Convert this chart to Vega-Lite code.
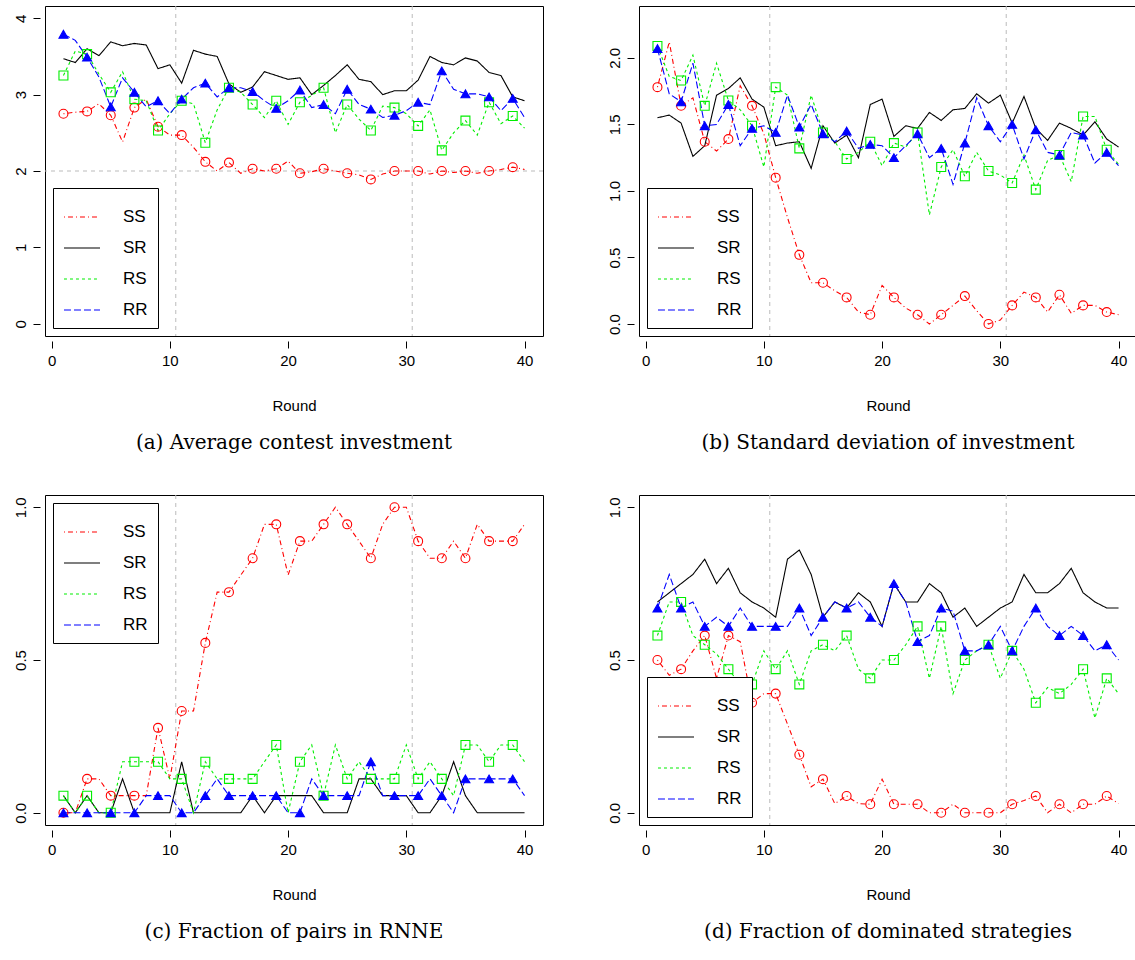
{
  "$schema": "https://vega.github.io/schema/vega-lite/v6.json",
  "padding": {"left": 12, "top": 5, "right": 5, "bottom": 5},
  "background": "white",
  "datasets": {
    "rounds": [
      {"p":"a","r":1,"SS":2.75,"SR":3.47,"RS":3.25,"RR":3.79},
      {"p":"a","r":2,"SS":2.77,"SR":3.42,"RS":3.57,"RR":3.71},
      {"p":"a","r":3,"SS":2.78,"SR":3.6,"RS":3.53,"RR":3.49},
      {"p":"a","r":4,"SS":2.88,"SR":3.51,"RS":3.27,"RR":3.23},
      {"p":"a","r":5,"SS":2.73,"SR":3.69,"RS":3.03,"RR":2.84},
      {"p":"a","r":6,"SS":2.38,"SR":3.64,"RS":3.3,"RR":3.22},
      {"p":"a","r":7,"SS":2.83,"SR":3.67,"RS":2.94,"RR":3.03},
      {"p":"a","r":8,"SS":2.94,"SR":3.65,"RS":2.92,"RR":2.84},
      {"p":"a","r":9,"SS":2.58,"SR":3.34,"RS":2.53,"RR":2.92},
      {"p":"a","r":10,"SS":2.47,"SR":3.39,"RS":2.75,"RR":2.75},
      {"p":"a","r":11,"SS":2.47,"SR":3.15,"RS":2.92,"RR":2.94},
      {"p":"a","r":12,"SS":2.31,"SR":3.58,"RS":2.88,"RR":3.09},
      {"p":"a","r":13,"SS":2.12,"SR":3.53,"RS":2.37,"RR":3.15},
      {"p":"a","r":14,"SS":2.0,"SR":3.5,"RS":2.8,"RR":2.97},
      {"p":"a","r":15,"SS":2.11,"SR":3.14,"RS":3.09,"RR":3.09},
      {"p":"a","r":16,"SS":1.97,"SR":3.03,"RS":3.03,"RR":3.09},
      {"p":"a","r":17,"SS":2.03,"SR":3.1,"RS":2.87,"RR":3.04},
      {"p":"a","r":18,"SS":2.0,"SR":3.3,"RS":2.7,"RR":2.92},
      {"p":"a","r":19,"SS":2.03,"SR":3.25,"RS":2.92,"RR":2.82},
      {"p":"a","r":20,"SS":2.13,"SR":3.2,"RS":2.61,"RR":2.92},
      {"p":"a","r":21,"SS":1.97,"SR":3.22,"RS":2.9,"RR":3.06},
      {"p":"a","r":22,"SS":1.99,"SR":3.0,"RS":2.99,"RR":2.83},
      {"p":"a","r":23,"SS":2.03,"SR":3.12,"RS":3.09,"RR":2.87},
      {"p":"a","r":24,"SS":2.0,"SR":3.25,"RS":2.5,"RR":2.75},
      {"p":"a","r":25,"SS":1.97,"SR":3.39,"RS":2.87,"RR":3.07},
      {"p":"a","r":26,"SS":1.95,"SR":3.2,"RS":2.68,"RR":2.87},
      {"p":"a","r":27,"SS":1.89,"SR":3.17,"RS":2.53,"RR":2.81},
      {"p":"a","r":28,"SS":1.96,"SR":3.0,"RS":2.85,"RR":2.7},
      {"p":"a","r":29,"SS":2.0,"SR":3.05,"RS":2.83,"RR":2.73},
      {"p":"a","r":30,"SS":2.0,"SR":3.05,"RS":2.75,"RR":2.79},
      {"p":"a","r":31,"SS":2.0,"SR":3.19,"RS":2.59,"RR":2.9},
      {"p":"a","r":32,"SS":1.96,"SR":3.5,"RS":2.8,"RR":2.87},
      {"p":"a","r":33,"SS":2.0,"SR":3.42,"RS":2.27,"RR":3.31},
      {"p":"a","r":34,"SS":1.98,"SR":3.39,"RS":2.5,"RR":3.07},
      {"p":"a","r":35,"SS":2.0,"SR":3.48,"RS":2.66,"RR":3.01},
      {"p":"a","r":36,"SS":1.97,"SR":3.44,"RS":2.47,"RR":3.01},
      {"p":"a","r":37,"SS":2.0,"SR":3.29,"RS":2.9,"RR":2.97},
      {"p":"a","r":38,"SS":2.02,"SR":3.25,"RS":2.62,"RR":2.79},
      {"p":"a","r":39,"SS":2.05,"SR":2.97,"RS":2.72,"RR":2.95},
      {"p":"a","r":40,"SS":2.02,"SR":2.92,"RS":2.56,"RR":2.7},

      {"p":"b","r":1,"SS":1.78,"SR":1.55,"RS":2.09,"RR":2.07},
      {"p":"b","r":2,"SS":2.12,"SR":1.57,"RS":1.86,"RR":1.73},
      {"p":"b","r":3,"SS":1.64,"SR":1.51,"RS":1.83,"RR":1.67},
      {"p":"b","r":4,"SS":1.7,"SR":1.26,"RS":2.02,"RR":1.96},
      {"p":"b","r":5,"SS":1.37,"SR":1.34,"RS":1.64,"RR":1.49},
      {"p":"b","r":6,"SS":1.3,"SR":1.72,"RS":1.96,"RR":1.5},
      {"p":"b","r":7,"SS":1.39,"SR":1.77,"RS":1.68,"RR":1.65},
      {"p":"b","r":8,"SS":1.79,"SR":1.85,"RS":1.61,"RR":1.34},
      {"p":"b","r":9,"SS":1.64,"SR":1.69,"RS":1.49,"RR":1.47},
      {"p":"b","r":10,"SS":1.43,"SR":1.63,"RS":1.18,"RR":1.49},
      {"p":"b","r":11,"SS":1.1,"SR":1.34,"RS":1.78,"RR":1.44},
      {"p":"b","r":12,"SS":0.8,"SR":1.36,"RS":1.72,"RR":1.72},
      {"p":"b","r":13,"SS":0.52,"SR":1.37,"RS":1.32,"RR":1.48},
      {"p":"b","r":14,"SS":0.31,"SR":1.17,"RS":1.72,"RR":1.65},
      {"p":"b","r":15,"SS":0.31,"SR":1.49,"RS":1.44,"RR":1.43},
      {"p":"b","r":16,"SS":0.25,"SR":1.36,"RS":1.37,"RR":1.37},
      {"p":"b","r":17,"SS":0.2,"SR":1.42,"RS":1.24,"RR":1.45},
      {"p":"b","r":18,"SS":0.09,"SR":1.25,"RS":1.29,"RR":1.32},
      {"p":"b","r":19,"SS":0.07,"SR":1.65,"RS":1.37,"RR":1.35},
      {"p":"b","r":20,"SS":0.29,"SR":1.69,"RS":1.19,"RR":1.34},
      {"p":"b","r":21,"SS":0.2,"SR":1.41,"RS":1.36,"RR":1.25},
      {"p":"b","r":22,"SS":0.12,"SR":1.49,"RS":1.33,"RR":1.34},
      {"p":"b","r":23,"SS":0.07,"SR":1.47,"RS":1.44,"RR":1.43},
      {"p":"b","r":24,"SS":0.0,"SR":1.59,"RS":0.82,"RR":1.25},
      {"p":"b","r":25,"SS":0.07,"SR":1.53,"RS":1.18,"RR":1.32},
      {"p":"b","r":26,"SS":0.14,"SR":1.61,"RS":1.31,"RR":1.05},
      {"p":"b","r":27,"SS":0.21,"SR":1.62,"RS":1.11,"RR":1.36},
      {"p":"b","r":28,"SS":0.1,"SR":1.73,"RS":1.29,"RR":1.7},
      {"p":"b","r":29,"SS":0.0,"SR":1.66,"RS":1.15,"RR":1.49},
      {"p":"b","r":30,"SS":0.03,"SR":1.72,"RS":1.12,"RR":1.37},
      {"p":"b","r":31,"SS":0.14,"SR":1.51,"RS":1.06,"RR":1.5},
      {"p":"b","r":32,"SS":0.24,"SR":1.71,"RS":1.27,"RR":1.24},
      {"p":"b","r":33,"SS":0.2,"SR":1.47,"RS":1.01,"RR":1.46},
      {"p":"b","r":34,"SS":0.09,"SR":1.38,"RS":1.23,"RR":1.29},
      {"p":"b","r":35,"SS":0.22,"SR":1.51,"RS":1.27,"RR":1.27},
      {"p":"b","r":36,"SS":0.08,"SR":1.47,"RS":1.07,"RR":1.44},
      {"p":"b","r":37,"SS":0.14,"SR":1.42,"RS":1.56,"RR":1.42},
      {"p":"b","r":38,"SS":0.14,"SR":1.52,"RS":1.56,"RR":1.21},
      {"p":"b","r":39,"SS":0.09,"SR":1.39,"RS":1.31,"RR":1.29},
      {"p":"b","r":40,"SS":0.07,"SR":1.33,"RS":1.2,"RR":1.19},

      {"p":"c","r":1,"SS":0,"SR":0.056,"RS":0.056,"RR":0},
      {"p":"c","r":2,"SS":0,"SR":0,"RS":0,"RR":0},
      {"p":"c","r":3,"SS":0.111,"SR":0.056,"RS":0.056,"RR":0},
      {"p":"c","r":4,"SS":0.111,"SR":0,"RS":0,"RR":0},
      {"p":"c","r":5,"SS":0.056,"SR":0,"RS":0,"RR":0},
      {"p":"c","r":6,"SS":0.056,"SR":0.111,"RS":0.167,"RR":0},
      {"p":"c","r":7,"SS":0.056,"SR":0,"RS":0.167,"RR":0},
      {"p":"c","r":8,"SS":0.056,"SR":0,"RS":0.167,"RR":0.056},
      {"p":"c","r":9,"SS":0.278,"SR":0,"RS":0.167,"RR":0.056},
      {"p":"c","r":10,"SS":0.111,"SR":0,"RS":0.111,"RR":0.056},
      {"p":"c","r":11,"SS":0.333,"SR":0.167,"RS":0.111,"RR":0},
      {"p":"c","r":12,"SS":0.333,"SR":0,"RS":0,"RR":0},
      {"p":"c","r":13,"SS":0.556,"SR":0,"RS":0.167,"RR":0.056},
      {"p":"c","r":14,"SS":0.722,"SR":0,"RS":0.111,"RR":0.111},
      {"p":"c","r":15,"SS":0.722,"SR":0,"RS":0.111,"RR":0.056},
      {"p":"c","r":16,"SS":0.778,"SR":0,"RS":0.111,"RR":0.056},
      {"p":"c","r":17,"SS":0.833,"SR":0.056,"RS":0.111,"RR":0.056},
      {"p":"c","r":18,"SS":0.944,"SR":0,"RS":0.167,"RR":0.056},
      {"p":"c","r":19,"SS":0.944,"SR":0.056,"RS":0.222,"RR":0.056},
      {"p":"c","r":20,"SS":0.778,"SR":0.056,"RS":0,"RR":0},
      {"p":"c","r":21,"SS":0.889,"SR":0.056,"RS":0.167,"RR":0},
      {"p":"c","r":22,"SS":0.889,"SR":0.056,"RS":0.222,"RR":0.111},
      {"p":"c","r":23,"SS":0.944,"SR":0,"RS":0.056,"RR":0.056},
      {"p":"c","r":24,"SS":1,"SR":0,"RS":0.222,"RR":0.056},
      {"p":"c","r":25,"SS":0.944,"SR":0,"RS":0.111,"RR":0.056},
      {"p":"c","r":26,"SS":0.889,"SR":0.111,"RS":0.167,"RR":0.056},
      {"p":"c","r":27,"SS":0.833,"SR":0.111,"RS":0.111,"RR":0.167},
      {"p":"c","r":28,"SS":0.944,"SR":0.056,"RS":0.111,"RR":0.056},
      {"p":"c","r":29,"SS":1,"SR":0.056,"RS":0.111,"RR":0.056},
      {"p":"c","r":30,"SS":1,"SR":0.056,"RS":0.222,"RR":0.056},
      {"p":"c","r":31,"SS":0.889,"SR":0,"RS":0.111,"RR":0.056},
      {"p":"c","r":32,"SS":0.833,"SR":0,"RS":0.167,"RR":0.111},
      {"p":"c","r":33,"SS":0.833,"SR":0.056,"RS":0.111,"RR":0.056},
      {"p":"c","r":34,"SS":0.889,"SR":0.167,"RS":0.056,"RR":0},
      {"p":"c","r":35,"SS":0.833,"SR":0.056,"RS":0.222,"RR":0.111},
      {"p":"c","r":36,"SS":0.944,"SR":0,"RS":0.222,"RR":0.111},
      {"p":"c","r":37,"SS":0.889,"SR":0,"RS":0.167,"RR":0.111},
      {"p":"c","r":38,"SS":0.889,"SR":0,"RS":0.222,"RR":0.111},
      {"p":"c","r":39,"SS":0.889,"SR":0,"RS":0.222,"RR":0.111},
      {"p":"c","r":40,"SS":0.944,"SR":0,"RS":0.167,"RR":0.056},

      {"p":"d","r":1,"SS":0.5,"SR":0.69,"RS":0.58,"RR":0.67},
      {"p":"d","r":2,"SS":0.45,"SR":0.72,"RS":0.69,"RR":0.78},
      {"p":"d","r":3,"SS":0.47,"SR":0.75,"RS":0.69,"RR":0.67},
      {"p":"d","r":4,"SS":0.53,"SR":0.78,"RS":0.58,"RR":0.69},
      {"p":"d","r":5,"SS":0.58,"SR":0.83,"RS":0.55,"RR":0.61},
      {"p":"d","r":6,"SS":0.44,"SR":0.75,"RS":0.52,"RR":0.64},
      {"p":"d","r":7,"SS":0.58,"SR":0.8,"RS":0.47,"RR":0.61},
      {"p":"d","r":8,"SS":0.56,"SR":0.72,"RS":0.42,"RR":0.67},
      {"p":"d","r":9,"SS":0.36,"SR":0.69,"RS":0.42,"RR":0.61},
      {"p":"d","r":10,"SS":0.39,"SR":0.67,"RS":0.53,"RR":0.61},
      {"p":"d","r":11,"SS":0.39,"SR":0.64,"RS":0.47,"RR":0.61},
      {"p":"d","r":12,"SS":0.29,"SR":0.83,"RS":0.53,"RR":0.61},
      {"p":"d","r":13,"SS":0.19,"SR":0.86,"RS":0.42,"RR":0.67},
      {"p":"d","r":14,"SS":0.085,"SR":0.78,"RS":0.53,"RR":0.58},
      {"p":"d","r":15,"SS":0.11,"SR":0.64,"RS":0.55,"RR":0.64},
      {"p":"d","r":16,"SS":0.03,"SR":0.69,"RS":0.53,"RR":0.69},
      {"p":"d","r":17,"SS":0.055,"SR":0.67,"RS":0.58,"RR":0.67},
      {"p":"d","r":18,"SS":0.03,"SR":0.72,"RS":0.47,"RR":0.69},
      {"p":"d","r":19,"SS":0.028,"SR":0.69,"RS":0.44,"RR":0.64},
      {"p":"d","r":20,"SS":0.11,"SR":0.61,"RS":0.5,"RR":0.61},
      {"p":"d","r":21,"SS":0.028,"SR":0.75,"RS":0.5,"RR":0.75},
      {"p":"d","r":22,"SS":0.028,"SR":0.69,"RS":0.55,"RR":0.69},
      {"p":"d","r":23,"SS":0.028,"SR":0.69,"RS":0.61,"RR":0.56},
      {"p":"d","r":24,"SS":0,"SR":0.75,"RS":0.44,"RR":0.58},
      {"p":"d","r":25,"SS":0,"SR":0.72,"RS":0.61,"RR":0.67},
      {"p":"d","r":26,"SS":0.028,"SR":0.64,"RS":0.39,"RR":0.66},
      {"p":"d","r":27,"SS":0,"SR":0.67,"RS":0.5,"RR":0.53},
      {"p":"d","r":28,"SS":0,"SR":0.61,"RS":0.53,"RR":0.53},
      {"p":"d","r":29,"SS":0,"SR":0.64,"RS":0.55,"RR":0.55},
      {"p":"d","r":30,"SS":0,"SR":0.67,"RS":0.44,"RR":0.61},
      {"p":"d","r":31,"SS":0.028,"SR":0.69,"RS":0.53,"RR":0.53},
      {"p":"d","r":32,"SS":0.04,"SR":0.78,"RS":0.47,"RR":0.61},
      {"p":"d","r":33,"SS":0.055,"SR":0.72,"RS":0.36,"RR":0.67},
      {"p":"d","r":34,"SS":0,"SR":0.72,"RS":0.41,"RR":0.61},
      {"p":"d","r":35,"SS":0.028,"SR":0.75,"RS":0.39,"RR":0.58},
      {"p":"d","r":36,"SS":0,"SR":0.8,"RS":0.42,"RR":0.61},
      {"p":"d","r":37,"SS":0.028,"SR":0.72,"RS":0.47,"RR":0.58},
      {"p":"d","r":38,"SS":0.028,"SR":0.69,"RS":0.31,"RR":0.53},
      {"p":"d","r":39,"SS":0.055,"SR":0.67,"RS":0.44,"RR":0.55},
      {"p":"d","r":40,"SS":0.03,"SR":0.67,"RS":0.39,"RR":0.5}
    ],
    "cuts": [{"x": 10.5}, {"x": 30.5}],
    "level": [{"y": 2}]
  },
  "resolve": {
    "scale": {"color": "independent", "strokeDash": "independent"},
    "legend": {"color": "independent", "strokeDash": "independent"}
  },
  "spacing": 40,
  "vconcat": [
    {
      "spacing": 62,
      "resolve": {
        "scale": {"color": "independent", "strokeDash": "independent"},
        "legend": {"color": "independent", "strokeDash": "independent"}
      },
      "hconcat": [
        {
          "width": 498, "height": 330,
          "title": {"text": "(a)  Average contest investment", "orient": "bottom"},
          "layer": [
            {
              "data": {"name": "cuts"},
              "mark": {"type": "rule", "color": "#bbbbbb", "strokeDash": [4, 4]},
              "encoding": {"x": {"field": "x", "type": "quantitative"}}
            },
            {
              "data": {"name": "level"},
              "mark": {"type": "rule", "color": "#bbbbbb", "strokeDash": [4, 4]},
              "encoding": {"y": {"field": "y", "type": "quantitative"}}
            },
            {
              "data": {"name": "rounds"},
              "transform": [{"filter": "datum.p == 'a'"}, {"fold": ["SS", "SR", "RS", "RR"], "as": ["s", "v"]}],
              "mark": {"type": "line", "strokeWidth": 1.1},
              "encoding": {
                "x": {"field": "r", "type": "quantitative", "scale": {"domain": [-0.56, 41.56], "nice": false, "zero": false}, "axis": {"values": [0, 10, 20, 30, 40], "title": "Round"}},
                "y": {"field": "v", "type": "quantitative", "scale": {"domain": [-0.16, 4.16], "nice": false}, "axis": {"values": [0, 1, 2, 3, 4], "format": "d", "title": null}},
                "color": {"field": "s", "type": "nominal", "scale": {"domain": ["SS", "SR", "RS", "RR"], "range": ["#ff0000", "#000000", "#00ee00", "#0000ff"]}, "legend": {"orient": "bottom-left"}},
                "strokeDash": {"field": "s", "type": "nominal", "scale": {"domain": ["SS", "SR", "RS", "RR"], "range": [[1, 3, 5, 3], [1, 0], [3, 3], [7, 3]]}, "legend": {"orient": "bottom-left"}}
              }
            },
            {
              "data": {"name": "rounds"},
              "transform": [{"filter": "datum.p == 'a' && datum.r % 2 == 1"}, {"fold": ["SS", "RS", "RR"], "as": ["s", "v"]}],
              "mark": {"type": "point", "size": 80, "strokeWidth": 1.1, "opacity": 1},
              "encoding": {
                "x": {"field": "r", "type": "quantitative"},
                "y": {"field": "v", "type": "quantitative"},
                "stroke": {"field": "s", "type": "nominal", "scale": {"domain": ["SS", "RS", "RR"], "range": ["#ff0000", "#00ee00", "#0000ff"]}, "legend": null},
                "fill": {"field": "s", "type": "nominal", "scale": {"domain": ["SS", "RS", "RR"], "range": ["transparent", "transparent", "#0000ff"]}, "legend": null},
                "shape": {"field": "s", "type": "nominal", "scale": {"domain": ["SS", "RS", "RR"], "range": ["circle", "square", "triangle-up"]}, "legend": null}
              }
            }
          ]
        },
        {
          "width": 498, "height": 330,
          "title": {"text": "(b)  Standard deviation of investment", "orient": "bottom"},
          "layer": [
            {
              "data": {"name": "cuts"},
              "mark": {"type": "rule", "color": "#bbbbbb", "strokeDash": [4, 4]},
              "encoding": {"x": {"field": "x", "type": "quantitative"}}
            },
            {
              "data": {"name": "rounds"},
              "transform": [{"filter": "datum.p == 'b'"}, {"fold": ["SS", "SR", "RS", "RR"], "as": ["s", "v"]}],
              "mark": {"type": "line", "strokeWidth": 1.1},
              "encoding": {
                "x": {"field": "r", "type": "quantitative", "scale": {"domain": [-0.56, 41.56], "nice": false, "zero": false}, "axis": {"values": [0, 10, 20, 30, 40], "title": "Round"}},
                "y": {"field": "v", "type": "quantitative", "scale": {"domain": [-0.09, 2.39], "nice": false}, "axis": {"values": [0, 0.5, 1, 1.5, 2], "format": ".1f", "title": null}},
                "color": {"field": "s", "type": "nominal", "scale": {"domain": ["SS", "SR", "RS", "RR"], "range": ["#ff0000", "#000000", "#00ee00", "#0000ff"]}, "legend": {"orient": "bottom-left"}},
                "strokeDash": {"field": "s", "type": "nominal", "scale": {"domain": ["SS", "SR", "RS", "RR"], "range": [[1, 3, 5, 3], [1, 0], [3, 3], [7, 3]]}, "legend": {"orient": "bottom-left"}}
              }
            },
            {
              "data": {"name": "rounds"},
              "transform": [{"filter": "datum.p == 'b' && datum.r % 2 == 1"}, {"fold": ["SS", "RS", "RR"], "as": ["s", "v"]}],
              "mark": {"type": "point", "size": 80, "strokeWidth": 1.1, "opacity": 1},
              "encoding": {
                "x": {"field": "r", "type": "quantitative"},
                "y": {"field": "v", "type": "quantitative"},
                "stroke": {"field": "s", "type": "nominal", "scale": {"domain": ["SS", "RS", "RR"], "range": ["#ff0000", "#00ee00", "#0000ff"]}, "legend": null},
                "fill": {"field": "s", "type": "nominal", "scale": {"domain": ["SS", "RS", "RR"], "range": ["transparent", "transparent", "#0000ff"]}, "legend": null},
                "shape": {"field": "s", "type": "nominal", "scale": {"domain": ["SS", "RS", "RR"], "range": ["circle", "square", "triangle-up"]}, "legend": null}
              }
            }
          ]
        }
      ]
    },
    {
      "spacing": 62,
      "resolve": {
        "scale": {"color": "independent", "strokeDash": "independent"},
        "legend": {"color": "independent", "strokeDash": "independent"}
      },
      "hconcat": [
        {
          "width": 498, "height": 330,
          "title": {"text": "(c)  Fraction of pairs in RNNE", "orient": "bottom"},
          "layer": [
            {
              "data": {"name": "cuts"},
              "mark": {"type": "rule", "color": "#bbbbbb", "strokeDash": [4, 4]},
              "encoding": {"x": {"field": "x", "type": "quantitative"}}
            },
            {
              "data": {"name": "rounds"},
              "transform": [{"filter": "datum.p == 'c'"}, {"fold": ["SS", "SR", "RS", "RR"], "as": ["s", "v"]}],
              "mark": {"type": "line", "strokeWidth": 1.1},
              "encoding": {
                "x": {"field": "r", "type": "quantitative", "scale": {"domain": [-0.56, 41.56], "nice": false, "zero": false}, "axis": {"values": [0, 10, 20, 30, 40], "title": "Round"}},
                "y": {"field": "v", "type": "quantitative", "scale": {"domain": [-0.04, 1.04], "nice": false}, "axis": {"values": [0, 0.5, 1], "format": ".1f", "title": null}},
                "color": {"field": "s", "type": "nominal", "scale": {"domain": ["SS", "SR", "RS", "RR"], "range": ["#ff0000", "#000000", "#00ee00", "#0000ff"]}, "legend": {"orient": "top-left"}},
                "strokeDash": {"field": "s", "type": "nominal", "scale": {"domain": ["SS", "SR", "RS", "RR"], "range": [[1, 3, 5, 3], [1, 0], [3, 3], [7, 3]]}, "legend": {"orient": "top-left"}}
              }
            },
            {
              "data": {"name": "rounds"},
              "transform": [{"filter": "datum.p == 'c' && datum.r % 2 == 1"}, {"fold": ["SS", "RS", "RR"], "as": ["s", "v"]}],
              "mark": {"type": "point", "size": 80, "strokeWidth": 1.1, "opacity": 1},
              "encoding": {
                "x": {"field": "r", "type": "quantitative"},
                "y": {"field": "v", "type": "quantitative"},
                "stroke": {"field": "s", "type": "nominal", "scale": {"domain": ["SS", "RS", "RR"], "range": ["#ff0000", "#00ee00", "#0000ff"]}, "legend": null},
                "fill": {"field": "s", "type": "nominal", "scale": {"domain": ["SS", "RS", "RR"], "range": ["transparent", "transparent", "#0000ff"]}, "legend": null},
                "shape": {"field": "s", "type": "nominal", "scale": {"domain": ["SS", "RS", "RR"], "range": ["circle", "square", "triangle-up"]}, "legend": null}
              }
            }
          ]
        },
        {
          "width": 498, "height": 330,
          "title": {"text": "(d)  Fraction of dominated strategies", "orient": "bottom"},
          "layer": [
            {
              "data": {"name": "cuts"},
              "mark": {"type": "rule", "color": "#bbbbbb", "strokeDash": [4, 4]},
              "encoding": {"x": {"field": "x", "type": "quantitative"}}
            },
            {
              "data": {"name": "rounds"},
              "transform": [{"filter": "datum.p == 'd'"}, {"fold": ["SS", "SR", "RS", "RR"], "as": ["s", "v"]}],
              "mark": {"type": "line", "strokeWidth": 1.1},
              "encoding": {
                "x": {"field": "r", "type": "quantitative", "scale": {"domain": [-0.56, 41.56], "nice": false, "zero": false}, "axis": {"values": [0, 10, 20, 30, 40], "title": "Round"}},
                "y": {"field": "v", "type": "quantitative", "scale": {"domain": [-0.04, 1.04], "nice": false}, "axis": {"values": [0, 0.5, 1], "format": ".1f", "title": null}},
                "color": {"field": "s", "type": "nominal", "scale": {"domain": ["SS", "SR", "RS", "RR"], "range": ["#ff0000", "#000000", "#00ee00", "#0000ff"]}, "legend": {"orient": "bottom-left"}},
                "strokeDash": {"field": "s", "type": "nominal", "scale": {"domain": ["SS", "SR", "RS", "RR"], "range": [[1, 3, 5, 3], [1, 0], [3, 3], [7, 3]]}, "legend": {"orient": "bottom-left"}}
              }
            },
            {
              "data": {"name": "rounds"},
              "transform": [{"filter": "datum.p == 'd' && datum.r % 2 == 1"}, {"fold": ["SS", "RS", "RR"], "as": ["s", "v"]}],
              "mark": {"type": "point", "size": 80, "strokeWidth": 1.1, "opacity": 1},
              "encoding": {
                "x": {"field": "r", "type": "quantitative"},
                "y": {"field": "v", "type": "quantitative"},
                "stroke": {"field": "s", "type": "nominal", "scale": {"domain": ["SS", "RS", "RR"], "range": ["#ff0000", "#00ee00", "#0000ff"]}, "legend": null},
                "fill": {"field": "s", "type": "nominal", "scale": {"domain": ["SS", "RS", "RR"], "range": ["transparent", "transparent", "#0000ff"]}, "legend": null},
                "shape": {"field": "s", "type": "nominal", "scale": {"domain": ["SS", "RS", "RR"], "range": ["circle", "square", "triangle-up"]}, "legend": null}
              }
            }
          ]
        }
      ]
    }
  ],
  "config": {
    "view": {"stroke": "black", "strokeWidth": 1},
    "font": "Liberation Sans",
    "title": {"font": "DejaVu Serif", "fontSize": 20, "fontWeight": "normal", "color": "black", "offset": 20},
    "axis": {
      "grid": false, "domain": false, "ticks": true, "tickColor": "black", "tickSize": 7, "offset": 5,
      "labelFont": "Liberation Sans", "labelFontSize": 15, "labelColor": "black", "labelPadding": 5,
      "titleFont": "Liberation Sans", "titleFontSize": 15, "titleFontWeight": "normal", "titleColor": "black", "titlePadding": 30
    },
    "axisY": {"labelAngle": 270, "labelAlign": "center", "labelBaseline": "bottom", "offset": 5},
    "legend": {
      "title": null, "strokeColor": "black", "fillColor": "white", "padding": 10, "offset": 8,
      "symbolType": "stroke", "symbolSize": 1300, "symbolStrokeWidth": 1.2,
      "labelFont": "Liberation Sans", "labelFontSize": 17, "labelColor": "black", "labelOffset": 22, "rowPadding": 4, "cornerRadius": 0
    }
  }
}
